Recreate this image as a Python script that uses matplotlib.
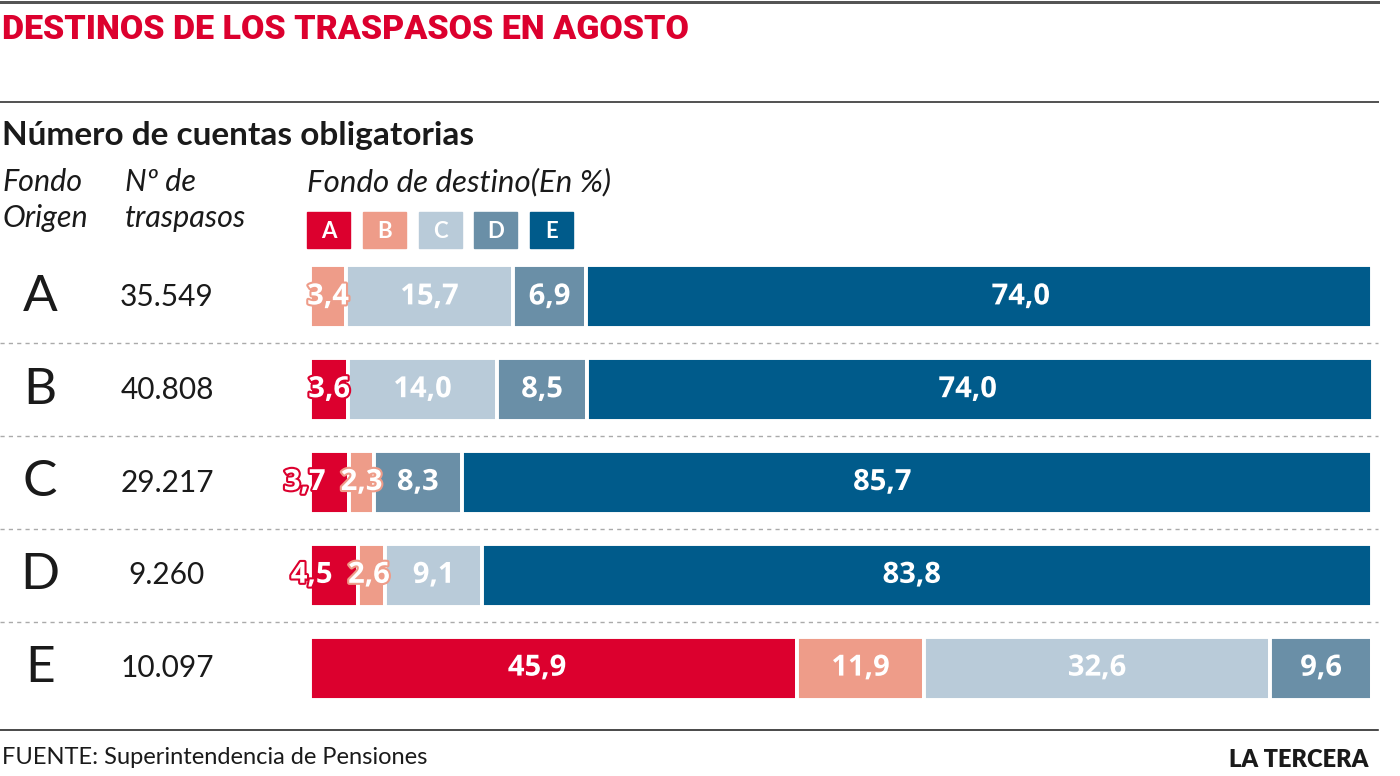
import matplotlib
matplotlib.use("Agg")
import matplotlib.pyplot as plt
import matplotlib.patheffects as pe
from matplotlib.lines import Line2D
from matplotlib.patches import Rectangle
from matplotlib.transforms import blended_transform_factory

# data
origins = ["A", "B", "C", "D", "E"]
n_traspasos = ["35.549", "40.808", "29.217", "9.260", "10.097"]
fondos = ["A", "B", "C", "D", "E"]
# percent going to each destination fund (rows = origin)
pct_A = [0.0, 3.6, 3.7, 4.5, 45.9]
pct_B = [3.4, 0.0, 2.3, 2.6, 11.9]
pct_C = [15.7, 14.0, 0.0, 9.1, 32.6]
pct_D = [6.9, 8.5, 8.3, 0.0, 9.6]
pct_E = [74.0, 74.0, 85.7, 83.8, 0.0]
pct = [pct_A, pct_B, pct_C, pct_D, pct_E]

colors = ["#DC002E", "#EE9C89", "#B9CBD9", "#6A8FA7", "#005B8B"]
# label nudges in points (row, fund) -> dx, the original isn't perfectly centred
nudge = {(2, 0): -18, (3, 0): -16, (3, 1): -2,
         (0, 4): 30, (1, 4): -9, (2, 4): -25, (3, 4): -11, (4, 0): -12}

W, H = 1400, 776
fig = plt.figure(figsize=(W / 100, H / 100), dpi=100)
fig.patch.set_facecolor("white")

def fx(px):
    return px / W

def fy(py):
    return 1 - py / H

body = ["Lato", "DejaVu Sans"]
barfont = ["Open Sans", "DejaVu Sans"]

# horizontal rules
for y, lw, c in [(1.5, 3, "#555555"), (102, 2, "#555555"), (730, 1.6, "#222222")]:
    fig.add_artist(Line2D([0, fx(1378)], [fy(y), fy(y)], color=c, lw=lw * 0.72))

fig.text(fx(2), fy(30), "DESTINOS DE LOS TRASPASOS EN AGOSTO", color="#DC002E",
         fontsize=24.5, fontweight="heavy", family=["Roboto", "DejaVu Sans"],
         va="center", ha="left")
fig.text(fx(2), fy(135), "Número de cuentas obligatorias", color="#1a1a1a",
         fontsize=24, fontweight="bold", family=body, va="center", ha="left")

for txt, x, y in [("Fondo", 2, 182), ("Origen", 2, 218),
                  ("Nº de", 125, 182), ("traspasos", 125, 218)]:
    fig.text(fx(x), fy(y), txt, fontsize=22, style="italic", family=body,
             color="#1a1a1a", va="center", ha="left")
fig.text(fx(307), fy(182), "Fondo de destino(En %)", fontsize=22.5, style="italic",
         family=body, color="#1a1a1a", va="center", ha="left")

# legend boxes
for i, f in enumerate(fondos):
    x0 = 307 + i * 55.8
    fig.add_artist(Rectangle((fx(x0), fy(248)), fx(43), 36 / H, color=colors[i]))
    fig.text(fx(x0 + 21.5), fy(231), f, color="white", fontsize=16, fontweight="bold",
             family=body, ha="center", va="center")

# bar axes
ax = fig.add_axes([fx(310), fy(714.5), fx(1372 - 310), (714.5 - 250.5) / H])
ax.set_xlim(0, 100)
ax.set_ylim(4.5, -0.5)
ax.axis("off")

rows = list(range(len(origins)))
left = [0.0] * len(origins)
for j, f in enumerate(fondos):
    vals = pct[j]
    ax.barh(rows, vals, left=left, height=0.68, color=colors[j],
            edgecolor="white", linewidth=2.8)
    for i in rows:
        v = vals[i]
        if v <= 0:
            continue
        cx = left[i] + v / 2
        t = ax.annotate(f"{v:.1f}".replace(".", ","), (cx, i),
                        xytext=(nudge.get((i, j), 0), 0), textcoords="offset points",
                        ha="center", va="center", color="white", fontsize=21,
                        fontweight="bold", family=barfont)
        t.set_path_effects([pe.withStroke(linewidth=3, foreground=colors[j])])
    left = [l + v for l, v in zip(left, vals)]

tr = blended_transform_factory(fig.transFigure, ax.transData)
for i, (o, n) in enumerate(zip(origins, n_traspasos)):
    ax.text(fx(40), i, o, transform=tr, fontsize=37, fontweight="normal", family=body,
            color="#1a1a1a", ha="center", va="center")
    ax.text(fx(167), i, n, transform=tr, fontsize=21.5, family=body,
            color="#1a1a1a", ha="center", va="center")

# dashed separators between rows
for i in rows[:-1]:
    ax.plot([-310 / 1062 * 100, (1378 - 310) / 1062 * 100], [i + 0.5, i + 0.5],
            color="#aaaaaa", lw=1, ls=(0, (3, 3)), clip_on=False)

fig.text(fx(2), fy(757), "FUENTE: Superintendencia de Pensiones", fontsize=17,
         family=body, color="#1a1a1a", va="center", ha="left")
fig.text(fx(1368), fy(760), "LA TERCERA", fontsize=17, fontweight="heavy",
         family=body, color="#1a1a1a", va="center", ha="right")

fig.savefig("out.png", dpi=100, facecolor="white")
